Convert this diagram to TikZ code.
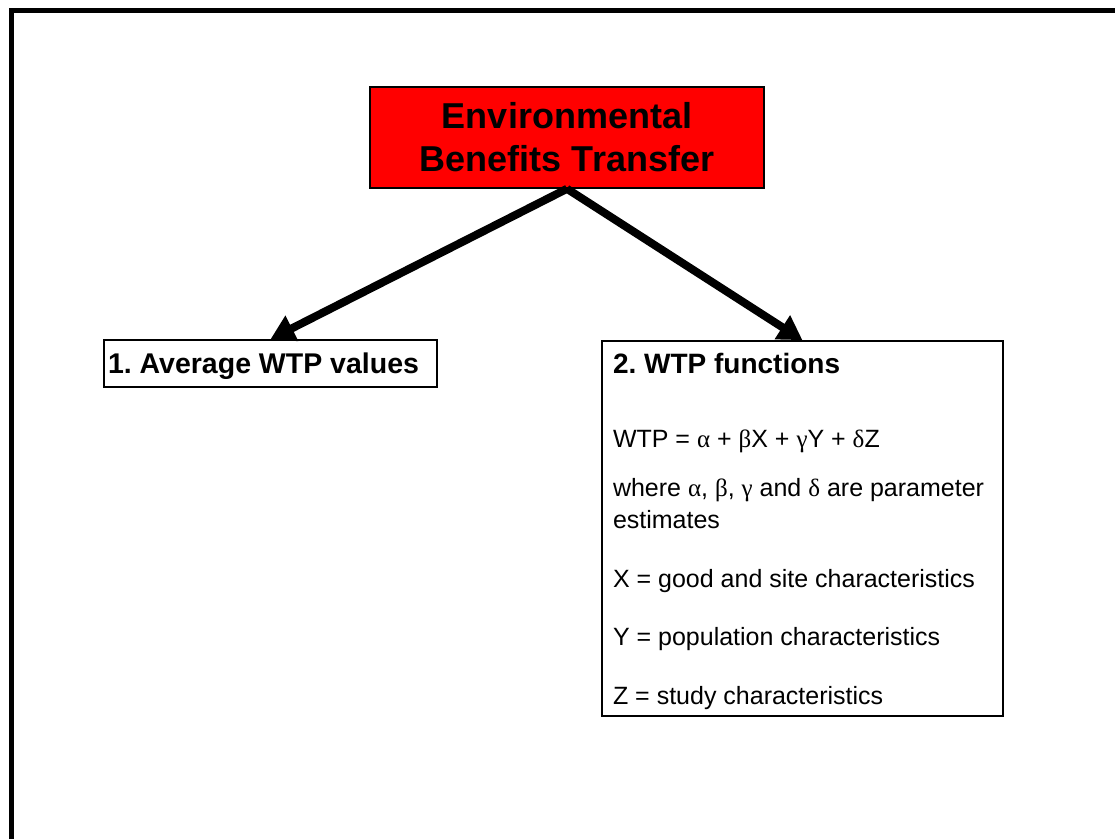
\documentclass[tikz,border=0pt]{standalone}
\usepackage{fontspec}
\setmainfont{Liberation Sans}
\newfontfamily\greekfont{Liberation Serif}
\usetikzlibrary{positioning,arrows.meta}
\newcommand{\gr}[1]{{\greekfont #1}}

\begin{document}
\begin{tikzpicture}[%
    x=1pt, y=-1pt,
    >={Triangle[length=24pt,width=27pt]}, % Big solid heads
    node distance=226pt and 296.5pt,      % Global setup of box spacing
    ]
% -------------------------------------------------
% Box and line styles
\tikzset{
  base/.style={draw, on grid, line width=1.6pt, inner sep=0pt},
  headbox/.style={base, fill=red, align=center, minimum width=394pt,
    minimum height=101pt, font=\fontsize{36}{43}\selectfont\bfseries},
  avgbox/.style={base, text width=325pt, inner xsep=4pt, align=flush left,
    minimum height=47pt, text height=22pt, text depth=3pt,
    font=\fontsize{28.5}{34}\selectfont\bfseries},
  funcbox/.style={base, text width=379pt, inner xsep=11pt,
    minimum height=375pt, align=flush left,
    font=\fontsize{25}{32}\selectfont},
  norm/.style={->, line width=8pt},
  frame/.style={line width=5pt, line join=miter}
}
\useasboundingbox (0,0) rectangle (1115,839);
\draw[frame] (11.5,839) -- (11.5,10.5) -- (1115,10.5);
% -------------------------------------------------
% Place the nodes
\node [headbox] (head) at (567,137.5) {Environmental\\Benefits Transfer};
\node [avgbox, below left=226pt and 296.5pt of head] (avg) {1.\ Average WTP values};
\node [funcbox, below right=391pt and 235.5pt of head] (func) {%
  {\fontsize{28}{34}\selectfont\bfseries\rule{0pt}{26.4pt}2.\ WTP functions\par}
  \vskip 42pt
  WTP = \gr{α} + \gr{β}X + \gr{γ}Y + \gr{δ}Z\par
  \vskip 17pt
  where \gr{α}, \gr{β}, \gr{γ} and \gr{δ} are parameter\\estimates\par
  \vskip 27pt
  X = good and site characteristics\par
  \vskip 26pt
  Y = population characteristics\par
  \vskip 27pt
  Z = study characteristics\par};

% Connect them
\draw[norm] (head.south) -- (avg.north);
\draw[norm] (head.south) -- (func.north);
% -------------------------------------------------
\end{tikzpicture}
\end{document}
